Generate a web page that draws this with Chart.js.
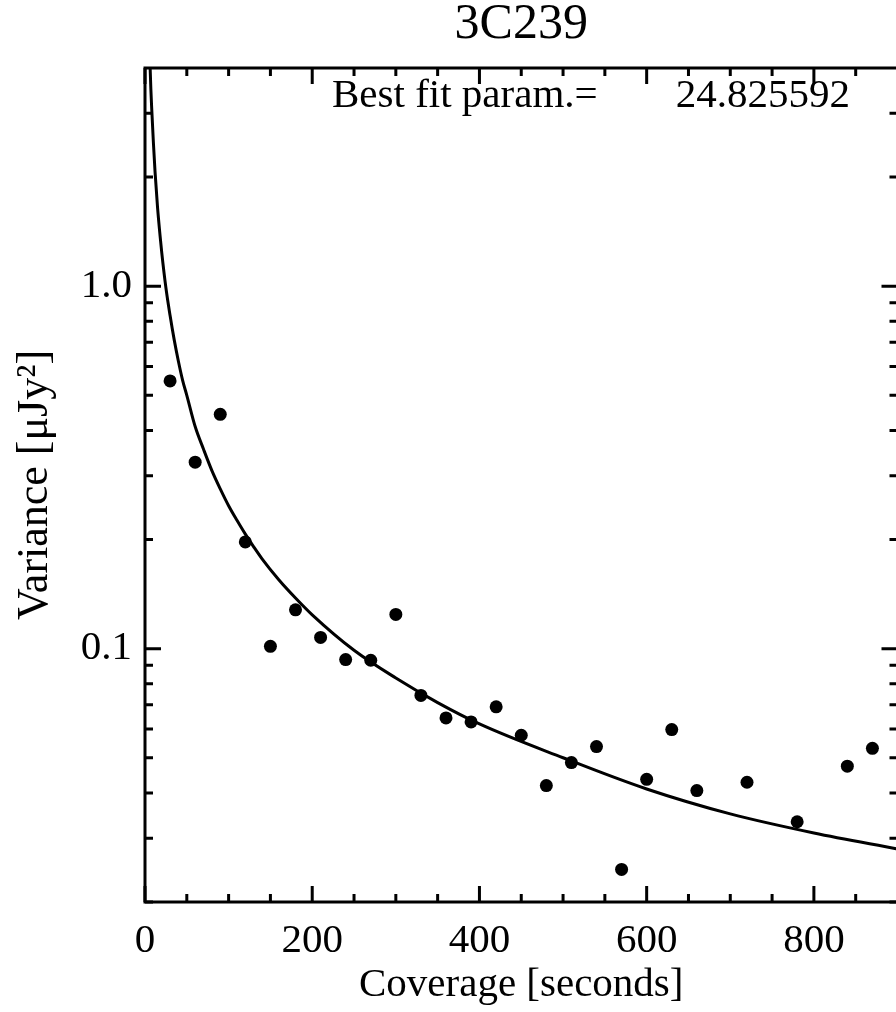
<!DOCTYPE html>
<html>
<head>
<meta charset="utf-8">
<script src="https://cdn.jsdelivr.net/npm/chart.js@4.4.1/dist/chart.umd.min.js"></script>
<style>
  html, body { margin: 0; padding: 0; background: #fff; overflow: hidden; }
  #wrap { width: 904px; height: 1012px; }
</style>
</head>
<body>
<div id="wrap"><canvas id="myChart" width="904" height="1012"></canvas></div>
<script>
// measured variance per coverage bin
const coverage = [30, 60, 90, 120, 150, 180, 210, 240, 270, 300, 330, 360, 390, 420,
                  450, 480, 510, 540, 570, 600, 630, 660, 720, 780, 840, 870];
const variance = [0.548, 0.327, 0.443, 0.197, 0.1015, 0.128, 0.1074, 0.0933, 0.0929, 0.1243,
                  0.0743, 0.0644, 0.0628, 0.0691, 0.0577, 0.0419, 0.0485, 0.0537, 0.0246,
                  0.0436, 0.0598, 0.0406, 0.0428, 0.0333, 0.0474, 0.0531];

// fitted curve
const fitX = [5, 6, 7, 8, 10, 12, 15, 18, 20, 25, 30, 35, 40, 45, 50, 60, 70, 80, 90, 100,
              110, 120, 130, 140, 160, 180, 200, 250, 300, 350, 400, 500, 600, 700, 800, 900];
const fitY = [5.0, 4.1, 3.5, 3.1, 2.5, 2.07, 1.65, 1.38, 1.24, 0.99, 0.83, 0.71, 0.62, 0.55,
              0.50, 0.41, 0.355, 0.31, 0.276, 0.248, 0.226, 0.207, 0.191, 0.177, 0.155, 0.138,
              0.124, 0.099, 0.083, 0.071, 0.062, 0.050, 0.041, 0.035, 0.031, 0.028];

const fitLabel = 'Best fit param.=';
const fitParam = 24.825592;

// axis ticks
const xMajor = [0, 200, 400, 600, 800];
const xMinor = [50, 100, 150, 250, 300, 350, 450, 500, 550, 650, 700, 750, 850];
const yMajor = [0.1, 1];
const yMinor = [0.02, 0.03, 0.04, 0.05, 0.06, 0.07, 0.08, 0.09,
                0.2, 0.3, 0.4, 0.5, 0.6, 0.7, 0.8, 0.9, 2, 3];
const yLabels = {0.1: '0.1', 1: '1.0'};

const serif = '"Liberation Serif", "Times New Roman", serif';

// IDL style frame with inward ticks on all four sides
const framePlugin = {
    id: 'frame',
    afterDraw(chart) {
        const {ctx, chartArea: a, scales} = chart;
        const x = scales.x, y = scales.y;
        ctx.save();
        ctx.strokeStyle = '#000';
        ctx.lineWidth = 3;
        ctx.lineCap = 'butt';
        ctx.beginPath();
        const xt = (vals, len) => vals.forEach(v => {
            const px = x.getPixelForValue(v);
            ctx.moveTo(px, a.bottom); ctx.lineTo(px, a.bottom - len);
            ctx.moveTo(px, a.top); ctx.lineTo(px, a.top + len);
        });
        const yt = (vals, len) => vals.forEach(v => {
            const py = y.getPixelForValue(v);
            ctx.moveTo(a.left, py); ctx.lineTo(a.left + len, py);
            ctx.moveTo(a.right, py); ctx.lineTo(a.right - len, py);
        });
        xt(xMajor, 16); xt(xMinor, 8);
        yt(yMajor, 16); yt(yMinor, 8);
        ctx.stroke();
        ctx.strokeRect(a.left, a.top, a.right - a.left, a.bottom - a.top);

        ctx.fillStyle = '#000';
        ctx.font = '41px ' + serif;
        ctx.textBaseline = 'alphabetic';
        ctx.textAlign = 'left';
        ctx.fillText(fitLabel, a.left + 187, a.top + 39);
        ctx.textAlign = 'right';
        ctx.fillText(fitParam.toFixed(6), a.left + 705, a.top + 39);
        ctx.restore();
    }
};

new Chart(document.getElementById('myChart'), {
    type: 'scatter',
    data: {
        datasets: [{
            label: 'data',
            data: coverage.map((c, i) => ({x: c, y: variance[i]})),
            pointRadius: 6.5,
            pointBackgroundColor: '#000',
            pointBorderWidth: 0,
            showLine: false,
            order: 1
        }, {
            label: 'fit',
            type: 'line',
            data: fitX.map((c, i) => ({x: c, y: fitY[i]})),
            borderColor: '#000',
            borderWidth: 3,
            pointRadius: 0,
            fill: false,
            cubicInterpolationMode: 'monotone',
            order: 2
        }]
    },
    options: {
        responsive: false,
        animation: false,
        layout: { padding: { left: 0, right: 2, top: 0, bottom: 0 } },
        plugins: {
            legend: { display: false },
            tooltip: { enabled: false },
            title: {
                display: true,
                text: '3C239',
                color: '#000',
                fullSize: false,
                font: { family: serif, size: 50, weight: 'normal', lineHeight: 1.0 },
                padding: { top: 0, bottom: 18 }
            }
        },
        scales: {
            x: {
                type: 'linear',
                min: 0,
                max: 900,
                afterBuildTicks: s => { s.ticks = xMajor.map(v => ({value: v})); },
                afterFit: s => { s.height = 110; },
                grid: { display: false, drawTicks: false },
                border: { display: false },
                ticks: {
                    color: '#000',
                    padding: 15,
                    maxRotation: 0,
                    autoSkip: false,
                    font: { family: serif, size: 41 },
                    callback: v => String(v)
                },
                title: {
                    display: true,
                    text: 'Coverage [seconds]',
                    color: '#000',
                    font: { family: serif, size: 41 },
                    padding: { top: 0, bottom: 2 }
                }
            },
            y: {
                type: 'logarithmic',
                min: 0.02,
                max: 4,
                afterBuildTicks: s => { s.ticks = yMajor.map(v => ({value: v})); },
                afterFit: s => { s.width = 145; },
                grid: { display: false, drawTicks: false },
                border: { display: false },
                ticks: {
                    color: '#000',
                    padding: 13,
                    autoSkip: false,
                    font: { family: serif, size: 41 },
                    callback: v => yLabels[v] || ''
                },
                title: {
                    display: true,
                    text: 'Variance [μJy²]',
                    color: '#000',
                    font: { family: serif, size: 44 },
                    padding: { top: 9, bottom: 0 }
                }
            }
        }
    },
    plugins: [framePlugin]
});
</script>
</body>
</html>
